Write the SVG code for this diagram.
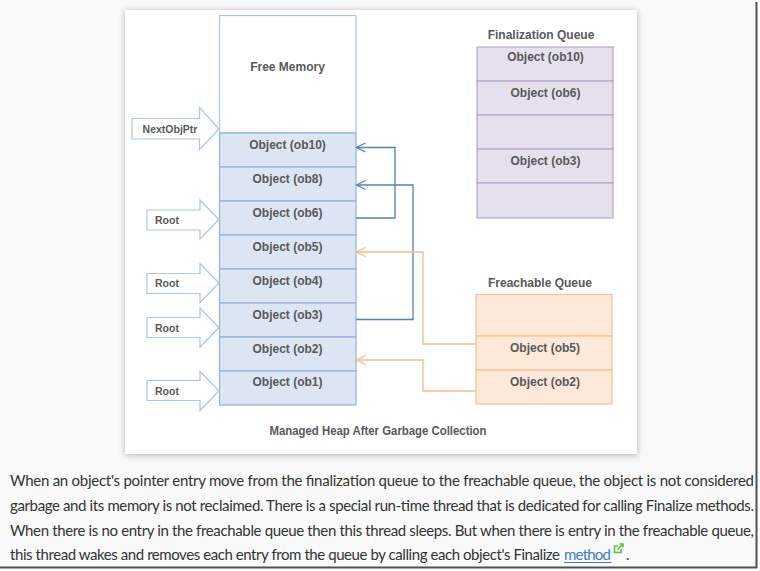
<svg xmlns="http://www.w3.org/2000/svg" width="760" height="571" viewBox="0 0 760 571">
<style>
.lbl{font-family:"Liberation Sans",Arial,sans-serif;font-weight:bold;font-size:12px;fill:#595959;text-anchor:middle}
.small{font-size:10.5px}
.heap{fill:#dce6f2;stroke:#8db3e2;stroke-width:1.2}
.fin{fill:#e5e0ec;stroke:#b8a6cf;stroke-width:1.2}
.frq{fill:#fde9d9;stroke:#f9c08f;stroke-width:1.2}
.blk{fill:#ffffff;stroke:#a9c5ea;stroke-width:1.2}
.cb{fill:none;stroke:#4f81bd;stroke-width:1.3}
.co{fill:none;stroke:#f8b98a;stroke-width:1.3}
.para{font-family:Lato,"Liberation Sans",sans-serif;font-size:15px;fill:#333333}
</style>
<defs>
<filter id="sh" x="-5%" y="-5%" width="110%" height="110%">
<feDropShadow dx="0" dy="1" stdDeviation="3" flood-color="#000" flood-opacity="0.3"/>
</filter>
<marker id="ab" markerUnits="userSpaceOnUse" markerWidth="12" markerHeight="12" viewBox="-10 -6 12 12" refX="0" refY="0" orient="auto">
<path d="M-9,-4.5 L0,0 L-9,4.5" fill="none" stroke="#4f81bd" stroke-width="1.3"/>
</marker>
<marker id="ao" markerUnits="userSpaceOnUse" markerWidth="12" markerHeight="12" viewBox="-10 -6 12 12" refX="0" refY="0" orient="auto">
<path d="M-9,-4.5 L0,0 L-9,4.5" fill="none" stroke="#f8b98a" stroke-width="1.3"/>
</marker>
</defs>
<rect x="0" y="0" width="760" height="571" fill="#ffffff"/>
<rect x="0" y="0" width="756" height="567" fill="#f9f9f9"/>
<line x1="756.5" y1="2" x2="756.5" y2="568" stroke="#505050" stroke-width="2"/>
<line x1="0" y1="567.5" x2="757" y2="567.5" stroke="#505050" stroke-width="2"/>
<rect x="125" y="10" width="512" height="444" fill="#ffffff" filter="url(#sh)"/>

<g id="heap">
<rect x="219.5" y="15.5" width="136.5" height="117.5" fill="#ffffff" stroke="#a9c5ea" stroke-width="1.2"/>
<text class="lbl" x="287.5" y="71">Free Memory</text>
</g>
<g id="ob10"><rect class="heap" x="219.5" y="133" width="136.5" height="34"/><text class="lbl" x="287.5" y="148.5">Object (ob10)</text></g>
<g id="ob8"><rect class="heap" x="219.5" y="167" width="136.5" height="34"/><text class="lbl" x="287.5" y="182.5">Object (ob8)</text></g>
<g id="ob6"><rect class="heap" x="219.5" y="201" width="136.5" height="34"/><text class="lbl" x="287.5" y="216.5">Object (ob6)</text></g>
<g id="ob5"><rect class="heap" x="219.5" y="235" width="136.5" height="34"/><text class="lbl" x="287.5" y="250.5">Object (ob5)</text></g>
<g id="ob4"><rect class="heap" x="219.5" y="269" width="136.5" height="34"/><text class="lbl" x="287.5" y="284.5">Object (ob4)</text></g>
<g id="ob3"><rect class="heap" x="219.5" y="303" width="136.5" height="34"/><text class="lbl" x="287.5" y="318.5">Object (ob3)</text></g>
<g id="ob2"><rect class="heap" x="219.5" y="337" width="136.5" height="34"/><text class="lbl" x="287.5" y="352.5">Object (ob2)</text></g>
<g id="ob1"><rect class="heap" x="219.5" y="371" width="136.5" height="34"/><text class="lbl" x="287.5" y="386">Object (ob1)</text></g>

<g id="nextobjptr">
<polygon class="blk" points="132,118.5 199.5,118.5 199.5,107.5 219,129 199.5,149.5 199.5,139 132,139"/>
<text class="lbl small" x="170" y="133">NextObjPtr</text>
</g>
<g id="root1">
<polygon class="blk" points="147,210 200,210 200,200 219,219.5 200,239 200,230 147,230"/>
<text class="lbl small" x="167" y="223.5">Root</text>
</g>
<g id="root2">
<polygon class="blk" points="147,273.5 200,273.5 200,263.5 219,283 200,302.5 200,293.5 147,293.5"/>
<text class="lbl small" x="167" y="287">Root</text>
</g>
<g id="root3">
<polygon class="blk" points="147,317.5 200,317.5 200,308 219,327.5 200,347 200,337.5 147,337.5"/>
<text class="lbl small" x="167" y="331.5">Root</text>
</g>
<g id="root4">
<polygon class="blk" points="147,380.5 200,380.5 200,371.5 219,391 200,410.5 200,400.5 147,400.5"/>
<text class="lbl small" x="167" y="395">Root</text>
</g>

<g id="finalization-queue">
<text class="lbl" x="541" y="38.5">Finalization Queue</text>
<rect class="fin" x="477" y="47" width="136" height="34"/>
<rect class="fin" x="477" y="81" width="136" height="34"/>
<rect class="fin" x="477" y="115" width="136" height="34"/>
<rect class="fin" x="477" y="149" width="136" height="34"/>
<rect class="fin" x="477" y="183" width="136" height="35"/>
<text class="lbl" x="545.5" y="61">Object (ob10)</text>
<text class="lbl" x="545.5" y="96.5">Object (ob6)</text>
<text class="lbl" x="545.5" y="165">Object (ob3)</text>
</g>

<g id="freachable-queue">
<text class="lbl" x="540" y="287">Freachable Queue</text>
<rect class="frq" x="476" y="294.5" width="136" height="41.5"/>
<rect class="frq" x="476" y="336" width="136" height="34"/>
<rect class="frq" x="476" y="370" width="136" height="34"/>
<text class="lbl" x="545" y="352">Object (ob5)</text>
<text class="lbl" x="545" y="386">Object (ob2)</text>
</g>

<g id="connectors">
<path class="cb" d="M356,218 H395 V147.5 H356.5" marker-end="url(#ab)"/>
<path class="cb" d="M356,319.5 H413 V185 H356.5" marker-end="url(#ab)"/>
<path class="co" d="M476,344 H423 V252 H356.5" marker-end="url(#ao)"/>
<path class="co" d="M476,391 H423 V360 H356.5" marker-end="url(#ao)"/>
</g>

<g id="caption">
<text class="lbl" x="378" y="434.5" textLength="217" lengthAdjust="spacingAndGlyphs">Managed Heap After Garbage Collection</text>
</g>

<g id="paragraph">
<text class="para" x="10" y="486" textLength="744" lengthAdjust="spacing">When an object's pointer entry move from the finalization queue to the freachable queue, the object is not considered</text>
<text class="para" x="10" y="511" textLength="744" lengthAdjust="spacing">garbage and its memory is not reclaimed. There is a special run-time thread that is dedicated for calling Finalize methods.</text>
<text class="para" x="10" y="535.5" textLength="744" lengthAdjust="spacing">When there is no entry in the freachable queue then this thread sleeps. But when there is entry in the freachable queue,</text>
<text class="para" x="10" y="560" textLength="550" lengthAdjust="spacing">this thread wakes and removes each entry from the queue by calling each object's Finalize</text>
<text class="para" x="564" y="560" textLength="47" lengthAdjust="spacing" style="fill:#3c7dc4">method</text>
<line x1="564" y1="562.5" x2="611.5" y2="562.5" stroke="#3c7dc4" stroke-width="1"/>
<g fill="none" stroke="#5cc43a" stroke-width="1.6">
<path d="M618,546 H614.5 V552.5 H621 V549"/>
<path d="M617.5,549.5 L623,544 M619.5,544 H623 V547.5"/>
</g>
<text class="para" x="626" y="560">.</text>
</g>
</svg>
